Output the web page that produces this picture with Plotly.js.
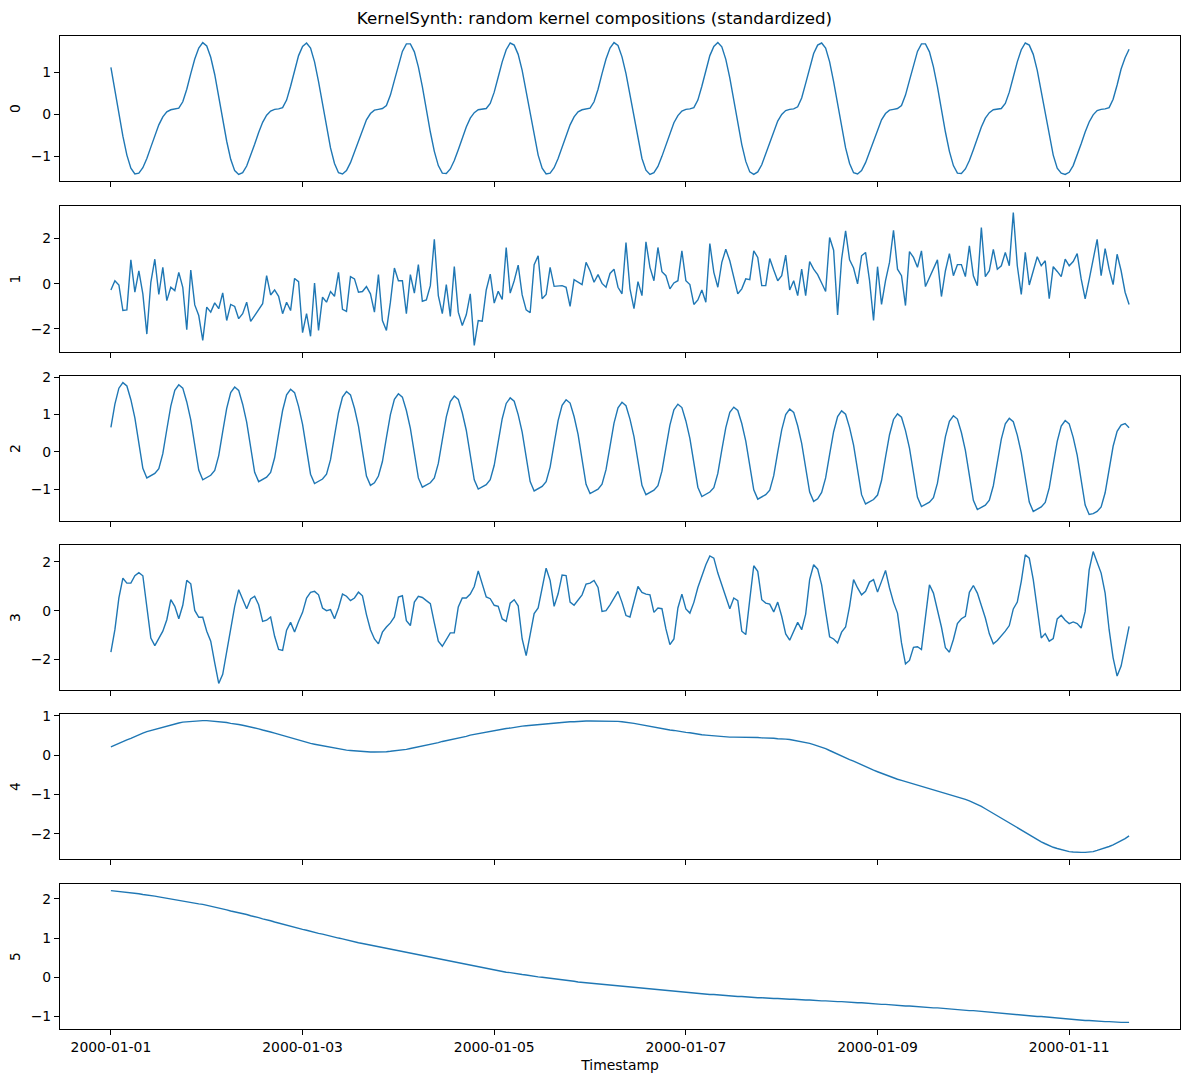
<!DOCTYPE html>
<html>
<head>
<meta charset="utf-8">
<script src="https://cdn.plot.ly/plotly-3.0.1.min.js"></script>
<style>
  html, body { margin: 0; padding: 0; background: #fff; }
  #chart { width: 1189px; height: 1083px; }
</style>
</head>
<body>
<div id="chart"></div>
<script>
// hourly samples, 2000-01-01 00:00 onwards (256 points per series)
var seriesNames = ["0", "1", "2", "3", "4", "5"];

var series0 = [
    1.12, 0.55, 0.00, -0.52, -0.97, -1.28, -1.42, -1.40, -1.27, -1.05, -0.78, -0.50, -0.25, -0.06, 0.06, 0.11, 0.13, 0.15, 0.30, 0.60, 0.97, 1.32, 1.58,
    1.71, 1.63, 1.36, 0.95, 0.42, -0.13, -0.64, -1.07, -1.34, -1.43, -1.39, -1.23, -0.99, -0.71, -0.43, -0.19, -0.02, 0.08, 0.12, 0.13, 0.16, 0.34, 0.67, 1.05, 1.40, 1.62,
    1.70, 1.58, 1.25, 0.78, 0.22, -0.32, -0.80, -1.17, -1.39, -1.42, -1.34, -1.15, -0.90, -0.62, -0.35, -0.13, 0.02, 0.10, 0.12, 0.14, 0.21, 0.46, 0.81, 1.18, 1.50, 1.68,
    1.68, 1.49, 1.13, 0.66, 0.11, -0.42, -0.88, -1.22, -1.40, -1.41, -1.30, -1.10, -0.84, -0.56, -0.30, -0.09, 0.04, 0.11, 0.12, 0.14, 0.26, 0.53, 0.89, 1.25, 1.54,
    1.70, 1.65, 1.43, 1.05, 0.55, 0.00, -0.52, -0.97, -1.28, -1.42, -1.40, -1.27, -1.05, -0.78, -0.50, -0.25, -0.06, 0.06, 0.11, 0.13, 0.15, 0.30, 0.60, 0.97, 1.32, 1.58,
    1.71, 1.64, 1.37, 0.97, 0.45, -0.10, -0.62, -1.05, -1.33, -1.43, -1.39, -1.24, -1.00, -0.73, -0.45, -0.20, -0.03, 0.08, 0.12, 0.13, 0.16, 0.34, 0.67, 1.05, 1.40, 1.62,
    1.71, 1.61, 1.31, 0.87, 0.33, -0.22, -0.72, -1.12, -1.37, -1.43, -1.37, -1.20, -0.95, -0.67, -0.40, -0.16, 0.00, 0.09, 0.12, 0.13, 0.18, 0.39, 0.74, 1.12, 1.45, 1.65,
    1.70, 1.58, 1.25, 0.78, 0.22, -0.32, -0.80, -1.17, -1.39, -1.42, -1.34, -1.15, -0.90, -0.62, -0.35, -0.13, 0.02, 0.10, 0.12, 0.14, 0.21, 0.46, 0.81, 1.18, 1.50, 1.68,
    1.68, 1.49, 1.13, 0.66, 0.11, -0.42, -0.88, -1.22, -1.40, -1.41, -1.30, -1.10, -0.84, -0.56, -0.30, -0.09, 0.04, 0.11, 0.12, 0.14, 0.26, 0.53, 0.89, 1.25, 1.54,
    1.70, 1.65, 1.43, 1.05, 0.55, 0.00, -0.52, -0.97, -1.28, -1.40, -1.43, -1.38, -1.22, -0.98, -0.70, -0.42, -0.18, -0.01, 0.09, 0.12, 0.13, 0.16, 0.36, 0.70, 1.08, 1.35, 1.55
];

var series1 = [
    -0.28, 0.13, -0.06, -1.19, -1.16, 1.05, -0.38, 0.56, -0.45, -2.23,
    0.06, 1.08, -0.48, 0.72, -0.75, -0.16, -0.31, 0.50, -0.16, -2.04,
    0.60, -0.94, -1.41, -2.51, -1.04, -1.26, -0.85, -1.11, -0.41, -1.63,
    -0.92, -1.01, -1.55, -1.33, -0.82, -1.67, -1.41, -1.14, -0.89, 0.35,
    -0.50, -0.28, -0.56, -1.33, -0.82, -1.19, 0.23, 0.09, -2.17, -1.33,
    -2.33, 0.03, -2.07, -0.60, -0.82, -0.35, -0.56, 0.50, -1.14, -1.23,
    0.31, 0.21, -0.38, -0.35, -0.13, -0.45, -1.26, 0.40, -1.63, -2.07,
    -0.82, 0.69, 0.13, 0.13, -1.33, 0.40, -0.42, 0.84, -0.78, -0.72,
    -0.09, 1.96, -0.53, -1.33, -0.04, -1.45, 0.75, -1.26, -1.85, -1.38,
    -0.45, -2.73, -1.63, -1.66, -0.28, 0.42, -0.86, -0.34, -0.70, 1.60,
    -0.42, 0.13, 0.82, -0.50, -1.16, -1.29, 0.84, 1.23, -0.67, -0.48,
    0.72, -0.12, -0.12, -0.09, -0.16, -1.01, 0.18, 0.06, -0.04, 0.94,
    0.57, 0.06, 0.40, 0.01, -0.16, 0.45, 0.64, -0.16, -0.45, 1.82,
    -0.23, -1.11, 0.09, -0.53, 1.85, 0.72, 0.13, 1.60, 0.53, 0.35,
    -0.23, 0.03, 0.13, 1.45, 0.13, -0.04, -0.92, -0.72, -0.28, -0.82,
    1.77, 0.50, -0.16, 0.94, 1.52, 1.01, 0.28, -0.45, -0.23, 0.21,
    0.18, 1.45, 1.16, -0.09, -0.09, 1.11, 0.60, 0.13, 0.35, 1.26,
    -0.28, 0.13, -0.53, 0.64, -0.53, 0.97, 0.64, 0.40, 0.03, -0.35,
    2.04, 1.48, -1.38, 1.08, 2.33, 1.05, 0.69, -0.01, 1.23, 1.38,
    0.13, -1.63, 0.75, -0.92, 0.13, 0.94, 2.36, 0.64, 0.35, -0.97,
    1.42, 1.16, 0.72, 1.45, -0.13, 0.25, 0.64, 1.05, -0.57, 0.57,
    1.33, 0.35, 0.84, 0.84, 0.31, 1.67, 0.35, -0.09, 2.48, 0.31,
    0.57, 1.52, 0.64, 0.79, 1.38, 0.79, 3.14, 0.79, -0.48, 1.38,
    -0.06, 0.57, 1.19, 0.79, 1.01, -0.67, 0.75, 0.54, 0.31, 1.08,
    0.79, 0.98, 1.33, 0.21, -0.67, 0.18, 1.08, 1.96, 0.35, 1.55,
    0.64, -0.04, 1.30, 0.57, -0.38, -0.92
];

var series2 = [
    0.66, 1.28, 1.71, 1.86,
    1.77, 1.40, 0.91, 0.22, -0.44, -0.70, -0.65, -0.58, -0.45, -0.05, 0.60, 1.23, 1.65, 1.80,
    1.71, 1.34, 0.86, 0.17, -0.49, -0.75, -0.70, -0.63, -0.50, -0.10, 0.54, 1.17, 1.59, 1.74,
    1.65, 1.28, 0.80, 0.11, -0.55, -0.80, -0.75, -0.68, -0.55, -0.16, 0.49, 1.11, 1.53, 1.68,
    1.59, 1.22, 0.74, 0.06, -0.60, -0.85, -0.80, -0.73, -0.60, -0.21, 0.43, 1.05, 1.47, 1.62,
    1.53, 1.17, 0.69, 0.01, -0.65, -0.90, -0.83, -0.65, -0.26, 0.38, 1.00, 1.41, 1.56,
    1.47, 1.11, 0.63, -0.05, -0.70, -0.95, -0.90, -0.83, -0.70, -0.31, 0.32, 0.94, 1.35, 1.50,
    1.41, 1.05, 0.58, -0.10, -0.75, -1.00, -0.95, -0.88, -0.75, -0.36, 0.27, 0.89, 1.30, 1.45,
    1.36, 1.00, 0.53, -0.15, -0.80, -1.05, -1.00, -0.93, -0.80, -0.41, 0.22, 0.84, 1.25, 1.40,
    1.31, 0.95, 0.47, -0.21, -0.87, -1.12, -1.07, -1.00, -0.87, -0.48, 0.15, 0.77, 1.18, 1.33,
    1.24, 0.88, 0.41, -0.26, -0.90, -1.15, -1.10, -1.03, -0.91, -0.52, 0.11, 0.72, 1.13, 1.28,
    1.19, 0.83, 0.36, -0.31, -0.95, -1.20, -1.15, -1.08, -0.96, -0.58, 0.05, 0.65, 1.06, 1.20,
    1.11, 0.76, 0.29, -0.38, -1.02, -1.27, -1.22, -1.15, -1.03, -0.64, -0.01, 0.59, 1.00, 1.15,
    1.06, 0.70, 0.23, -0.44, -1.08, -1.33, -1.26, -1.09, -0.70, -0.07, 0.54, 0.95, 1.10,
    1.01, 0.65, 0.18, -0.50, -1.15, -1.40, -1.35, -1.28, -1.16, -0.77, -0.14, 0.46, 0.87, 1.02,
    0.93, 0.57, 0.10, -0.57, -1.22, -1.47, -1.42, -1.35, -1.23, -0.84, -0.20, 0.41, 0.82, 0.97,
    0.88, 0.52, 0.04, -0.64, -1.30, -1.55, -1.50, -1.43, -1.30, -0.91, -0.28, 0.34, 0.75, 0.90,
    0.81, 0.45, -0.03, -0.70, -1.35, -1.60, -1.55, -1.48, -1.36, -0.97, -0.33, 0.28, 0.69, 0.84,
    0.75, 0.39, -0.09, -0.77, -1.43, -1.68, -1.66, -1.60, -1.48, -1.10, -0.45, 0.15, 0.55, 0.72, 0.76, 0.65
];

var series3 = [
    -1.70, -0.78, 0.52, 1.33, 1.13, 1.13, 1.43, 1.56, 1.43, 0.18,
    -1.12, -1.43, -1.16, -0.84, -0.37, 0.45, 0.18, -0.33, 0.22, 1.24,
    1.10, 0.01, -0.27, -0.27, -0.84, -1.25, -2.14, -2.98, -2.61, -1.73,
    -0.71, 0.18, 0.86, 0.45, 0.08, 0.48, 0.59, 0.24, -0.44, -0.39,
    -0.26, -1.05, -1.59, -1.63, -0.80, -0.48, -0.87, -0.44, -0.07, 0.52,
    0.75, 0.79, 0.65, 0.11, 0.00, 0.04, -0.33, 0.11, 0.68, 0.59,
    0.41, 0.52, 0.76, 0.61, -0.16, -0.78, -1.16, -1.36, -0.88, -0.67,
    -0.50, -0.26, 0.56, 0.61, -0.41, -0.61, 0.35, 0.59, 0.54, 0.41,
    0.29, -0.50, -1.25, -1.46, -1.18, -0.91, -0.91, 0.15, 0.52, 0.52,
    0.68, 0.99, 1.63, 1.06, 0.56, 0.49, 0.22, 0.18, -0.34, -0.44,
    0.31, 0.45, 0.20, -1.16, -1.84, -0.98, -0.12, 0.11, 0.93, 1.74,
    1.24, 0.18, 0.69, 1.46, 1.44, 0.35, 0.22, 0.45, 0.65, 1.09,
    1.13, 1.24, 0.95, -0.03, 0.00, 0.24, 0.49, 0.79, 0.34, -0.20,
    -0.26, 0.38, 0.99, 0.75, 0.68, 0.65, -0.07, 0.11, 0.08, -0.75,
    -1.39, -1.16, 0.11, 0.68, 0.07, -0.10, 0.34, 0.95, 1.44, 1.88,
    2.24, 2.15, 1.54, 1.06, 0.59, 0.08, 0.52, 0.41, -0.84, -0.98,
    0.45, 1.84, 1.61, 0.45, 0.31, 0.27, -0.05, 0.35, -0.23, -0.95,
    -1.21, -0.84, -0.48, -0.78, -0.14, 1.27, 1.88, 1.70, 1.06, -0.03,
    -1.07, -1.16, -1.32, -0.88, -0.67, 0.18, 1.27, 0.93, 0.65, 0.79,
    1.17, 1.27, 0.76, 1.20, 1.65, 0.93, 0.34, -0.10, -1.32, -2.18,
    -2.04, -1.50, -1.48, -1.59, -0.16, 1.06, 0.72, 0.04, -0.67, -1.52,
    -1.70, -1.18, -0.53, -0.33, -0.23, 0.75, 1.03, 0.72, 0.18, -0.30,
    -0.95, -1.36, -1.22, -1.05, -0.84, -0.61, 0.07, 0.35, 1.20, 2.29,
    2.15, 1.27, -0.03, -1.12, -0.94, -1.25, -1.14, -0.34, -0.19, -0.39,
    -0.53, -0.46, -0.53, -0.71, -0.03, 1.67, 2.42, 1.95, 1.54, 0.72,
    -0.78, -1.93, -2.68, -2.27, -1.50, -0.64
];

var series4 = [
    0.21, 0.26, 0.30, 0.35, 0.39, 0.43, 0.48, 0.52, 0.56, 0.60, 0.63,
    0.66, 0.69, 0.72, 0.75, 0.77, 0.80, 0.82, 0.84, 0.85, 0.86, 0.87, 0.88,
    0.88, 0.88, 0.87, 0.87, 0.86, 0.84, 0.83, 0.81, 0.80, 0.78, 0.76, 0.74,
    0.72, 0.69, 0.67, 0.64, 0.62, 0.59, 0.56, 0.53, 0.50, 0.47, 0.44, 0.41, 0.38, 0.35,
    0.33, 0.30, 0.28, 0.26, 0.24, 0.22, 0.20, 0.18, 0.16, 0.15, 0.13, 0.12, 0.11,
    0.10, 0.09, 0.09, 0.08, 0.08, 0.08, 0.09, 0.09, 0.10, 0.11, 0.12,
    0.13, 0.15, 0.17, 0.19, 0.21, 0.23, 0.25, 0.27, 0.30, 0.32, 0.35, 0.37, 0.40, 0.42,
    0.44, 0.46, 0.48, 0.51, 0.53, 0.55, 0.57, 0.59, 0.61, 0.63, 0.64, 0.66, 0.68, 0.69, 0.71, 0.72, 0.74, 0.75,
    0.76, 0.77, 0.78, 0.79, 0.80, 0.81, 0.82, 0.83, 0.84, 0.84, 0.85, 0.85, 0.86, 0.86, 0.87, 0.87, 0.87, 0.87,
    0.87, 0.87, 0.87, 0.86, 0.86, 0.85, 0.84, 0.83, 0.81, 0.79, 0.77, 0.75, 0.73, 0.71,
    0.69, 0.68, 0.66, 0.64, 0.63, 0.61, 0.60, 0.58, 0.57, 0.55, 0.54, 0.52, 0.51, 0.50,
    0.49, 0.48, 0.47, 0.47, 0.46, 0.46, 0.46, 0.45, 0.45, 0.45, 0.45, 0.45, 0.44, 0.44, 0.44,
    0.43, 0.42, 0.42, 0.41, 0.40, 0.38, 0.37, 0.35, 0.33, 0.30, 0.27, 0.24, 0.21, 0.17, 0.12, 0.07,
    0.03, -0.02, -0.06, -0.11, -0.15, -0.20, -0.24, -0.29, -0.33, -0.38, -0.42,
    -0.46, -0.50, -0.54, -0.57, -0.61, -0.64, -0.67, -0.70, -0.72, -0.75, -0.78, -0.81, -0.84, -0.87, -0.90, -0.93,
    -0.96, -0.99, -1.02, -1.05, -1.09, -1.12, -1.16, -1.20, -1.25, -1.30, -1.36,
    -1.42, -1.48, -1.54, -1.60, -1.67, -1.73, -1.79, -1.86, -1.92, -1.98, -2.04,
    -2.09, -2.15, -2.20, -2.25, -2.30, -2.34, -2.37, -2.40, -2.43, -2.45,
    -2.46, -2.47, -2.47, -2.47, -2.46, -2.45, -2.42,
    -2.39, -2.36, -2.32, -2.28, -2.23, -2.18, -2.12, -2.05
];

var series5 = [
    2.21, 2.20, 2.19, 2.18, 2.17, 2.16, 2.14, 2.13, 2.11, 2.10, 2.08, 2.07, 2.05,
    2.03, 2.02, 2.00, 1.98, 1.96, 1.95, 1.93, 1.91, 1.89, 1.87, 1.86, 1.84,
    1.81, 1.79, 1.77, 1.74, 1.72, 1.69, 1.67, 1.65, 1.62, 1.60, 1.57, 1.55,
    1.52, 1.49, 1.47, 1.44, 1.41, 1.38, 1.36, 1.33, 1.30, 1.27, 1.25, 1.22,
    1.20, 1.17, 1.15, 1.12, 1.10, 1.07, 1.05, 1.03, 1.00, 0.98, 0.95, 0.93,
    0.91, 0.88, 0.86, 0.84, 0.82, 0.79, 0.77, 0.75, 0.73, 0.70, 0.68, 0.66,
    0.64, 0.62, 0.60, 0.58, 0.56, 0.54, 0.52, 0.50, 0.48, 0.46, 0.44, 0.42,
    0.40, 0.38, 0.36, 0.34, 0.32, 0.30, 0.28, 0.26, 0.24, 0.22, 0.20, 0.18,
    0.16, 0.15, 0.13, 0.12, 0.10, 0.09, 0.07, 0.06, 0.04, 0.03, 0.01, 0.00,
    -0.01, -0.03, -0.04, -0.05, -0.07, -0.08, -0.09, -0.10, -0.12, -0.13, -0.14, -0.15,
    -0.16, -0.17, -0.18, -0.19, -0.20, -0.21, -0.22, -0.23, -0.24, -0.25, -0.26, -0.27,
    -0.28, -0.29, -0.30, -0.31, -0.32, -0.33, -0.34, -0.35, -0.36, -0.37, -0.38, -0.39,
    -0.40, -0.41, -0.41, -0.42, -0.43, -0.44, -0.44, -0.45, -0.46, -0.47, -0.47, -0.48,
    -0.49, -0.49, -0.50, -0.50, -0.51, -0.52, -0.52, -0.53, -0.53, -0.54, -0.54, -0.55,
    -0.55, -0.56, -0.56, -0.57, -0.57, -0.58, -0.58, -0.59, -0.59, -0.60, -0.60, -0.61,
    -0.61, -0.62, -0.62, -0.63, -0.64, -0.64, -0.65, -0.65, -0.66, -0.67, -0.67, -0.68,
    -0.69, -0.69, -0.70, -0.71, -0.71, -0.72, -0.73, -0.73, -0.74, -0.75, -0.75, -0.76,
    -0.77, -0.78, -0.78, -0.79, -0.80, -0.81, -0.81, -0.82, -0.83, -0.84, -0.85, -0.85,
    -0.86, -0.87, -0.88, -0.89, -0.90, -0.91, -0.91, -0.92, -0.93, -0.94, -0.95, -0.96,
    -0.97, -0.98, -0.99, -1.00, -1.00, -1.01, -1.02, -1.03, -1.04, -1.05, -1.06, -1.07,
    -1.08, -1.08, -1.09, -1.10, -1.10, -1.11, -1.12, -1.12, -1.13, -1.13, -1.14, -1.14, -1.15, -1.15, -1.15
];

var allSeries = [series0, series1, series2, series3, series4, series5];
var yTickSteps = [1, 2, 1, 2, 1, 1];

var HOUR = 3600 * 1000;
var startMs = Date.UTC(2000, 0, 1);

function toStamp(ms)
{
    return new Date(ms).toISOString().slice(0, 19).replace("T", " ");
}

var nPoints = series0.length;
var timestamps = [];
for (var i = 0; i < nPoints; i++)
{
    timestamps.push(toStamp(startMs + i * HOUR));
}

// matplotlib-like 5% margins
var spanH = nPoints - 1;
var xRange = [toStamp(startMs - 0.05 * spanH * HOUR), toStamp(startMs + 1.05 * spanH * HOUR)];

// panel extents in pixels (top, bottom), plot area is 36..1029
var panelPx = [[36, 181], [206, 352], [376, 521], [545, 690], [714, 859], [884, 1029]];
var plotTop = 36, plotBottom = 1029, plotH = plotBottom - plotTop;

var fontFamily = "DejaVu Sans, Liberation Sans, sans-serif";
var tickFont = { family: fontFamily, size: 13.9, color: "#000" };

var traces = [];
var layout = {
    width: 1189,
    height: 1083,
    margin: { l: 60, r: 9, t: 36, b: 54 },
    paper_bgcolor: "#fff",
    plot_bgcolor: "#fff",
    showlegend: false,
    font: { family: fontFamily, size: 13.9, color: "#000" },
    title: {
        text: "KernelSynth: random kernel compositions (standardized)",
        font: { family: fontFamily, size: 16.7, color: "#000" },
        xref: "container", x: 0.5, xanchor: "center",
        yref: "container", y: 1 - 18 / 1083, yanchor: "middle"
    }
};

allSeries.forEach(function (values, idx)
{
    var n = idx + 1;
    var xKey = n === 1 ? "xaxis" : "xaxis" + n;
    var yKey = n === 1 ? "yaxis" : "yaxis" + n;
    var xRef = n === 1 ? "x" : "x" + n;
    var yRef = n === 1 ? "y" : "y" + n;

    traces.push({
        x: timestamps,
        y: values,
        xaxis: xRef,
        yaxis: yRef,
        type: "scatter",
        mode: "lines",
        name: seriesNames[idx],
        line: { color: "#1f77b4", width: 1.4 },
        hoverinfo: "skip"
    });

    var lo = Math.min.apply(null, values);
    var hi = Math.max.apply(null, values);
    var pad = (hi - lo) * 0.05;

    var top = panelPx[idx][0], bottom = panelPx[idx][1];
    var domain = [(plotBottom - bottom) / plotH, (plotBottom - top) / plotH];
    var isLast = n === allSeries.length;

    layout[xKey] = {
        type: "date",
        domain: [0, 1],
        anchor: yRef,
        range: xRange,
        tick0: "2000-01-01",
        dtick: 2 * 24 * HOUR,
        tickformat: "%Y-%m-%d",
        ticks: "outside",
        ticklen: 5,
        tickwidth: 1.1,
        tickcolor: "#000",
        showticklabels: isLast,
        tickfont: tickFont,
        showline: true,
        mirror: true,
        linecolor: "#000",
        linewidth: 1.1,
        showgrid: false,
        zeroline: false
    };
    if (n > 1) layout[xKey].matches = "x";
    if (isLast) layout[xKey].title = { text: "Timestamp", font: tickFont, standoff: 6 };

    layout[yKey] = {
        domain: domain,
        anchor: xRef,
        range: [lo - pad, hi + pad],
        dtick: yTickSteps[idx],
        ticks: "outside",
        ticklen: 5,
        tickwidth: 1.1,
        tickcolor: "#000",
        tickfont: tickFont,
        showline: true,
        mirror: true,
        linecolor: "#000",
        linewidth: 1.1,
        showgrid: false,
        zeroline: false,
        title: { text: seriesNames[idx], font: tickFont, standoff: 6 }
    };
});

Plotly.newPlot("chart", traces, layout, { displayModeBar: false, responsive: false });
</script>
</body>
</html>
